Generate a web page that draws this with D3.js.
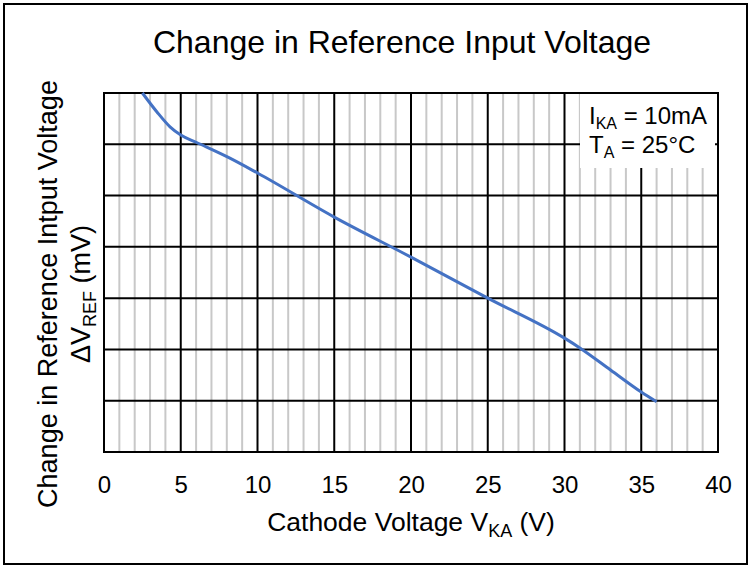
<!DOCTYPE html>
<html>
<head>
<meta charset="utf-8">
<script src="https://cdn.jsdelivr.net/npm/d3@7"></script>
<style>
  body { margin: 0; background: #fff; }
  text { font-family: "Liberation Sans", Arial, sans-serif; fill: #000; }
</style>
</head>
<body>
<div id="chart"></div>
<script>
// cathode voltage (V) and change in reference voltage (mV)
const vka = [2.5, 3.45, 4.3, 5, 6, 8.2, 10, 15, 20, 25, 30, 31, 33, 35, 36];
const dvref = [0, -3.7, -6.6, -8.2, -9.6, -12.7, -15.6, -24.2, -32.0, -40.0, -47.8, -49.7, -54.0, -58.3, -60.2];
const xTicks = [0, 5, 10, 15, 20, 25, 30, 35, 40];
const yDivisions = [-70, -60, -50, -40, -30, -20, -10, 0];

const width = 753, height = 568;
const margin = { left: 104, right: 35, top: 93, bottom: 116 };

const svg = d3.select("#chart").append("svg")
  .attr("width", width)
  .attr("height", height);

const x = d3.scaleLinear().domain([0, 40]).range([margin.left, width - margin.right]);
const y = d3.scaleLinear().domain([-70, 0]).range([height - margin.bottom, margin.top]);

// outer frame
svg.append("rect")
  .attr("x", 4).attr("y", 4)
  .attr("width", 743).attr("height", 560)
  .attr("fill", "none").attr("stroke", "#000").attr("stroke-width", 2);

// minor vertical grid
svg.append("g")
  .selectAll("line")
  .data(d3.range(0, 41, 1).filter(d => d % 5 != 0))
  .join("line")
  .attr("x1", d => x(d)).attr("x2", d => x(d))
  .attr("y1", y(0)).attr("y2", y(-70))
  .attr("stroke", "#c8c8c8").attr("stroke-width", 2);

// major grid
svg.append("g")
  .selectAll("line")
  .data(xTicks)
  .join("line")
  .attr("x1", d => x(d)).attr("x2", d => x(d))
  .attr("y1", y(0)).attr("y2", y(-70))
  .attr("stroke", "#000").attr("stroke-width", 2);

svg.append("g")
  .selectAll("line")
  .data(yDivisions)
  .join("line")
  .attr("x1", x(0)).attr("x2", x(40))
  .attr("y1", d => y(d)).attr("y2", d => y(d))
  .attr("stroke", "#000").attr("stroke-width", 2);

// legend box covering the grid
svg.append("rect")
  .attr("x", 580).attr("y", y(0) + 1)
  .attr("width", 135).attr("height", 74)
  .attr("fill", "#fff");

const legend = svg.append("g").style("font-size", "24px");
const l1 = legend.append("text").attr("x", 589).attr("y", 124);
l1.append("tspan").text("I");
l1.append("tspan").attr("dy", 5).style("font-size", "16px").text("KA");
l1.append("tspan").attr("dy", -5).text(" = 10mA");
const l2 = legend.append("text").attr("x", 589).attr("y", 153);
l2.append("tspan").text("T");
l2.append("tspan").attr("dy", 5).style("font-size", "16px").text("A");
l2.append("tspan").attr("dy", -5).text(" = 25°C");

// plot border
svg.append("rect")
  .attr("x", x(0)).attr("y", y(0))
  .attr("width", x(40) - x(0)).attr("height", y(-70) - y(0))
  .attr("fill", "none").attr("stroke", "#000").attr("stroke-width", 2);

// curve
const line = d3.line()
  .x((d, i) => x(vka[i]))
  .y(d => y(d))
  .curve(d3.curveMonotoneX);

svg.append("path")
  .datum(dvref)
  .attr("d", line)
  .attr("fill", "none")
  .attr("stroke", "#4472c4")
  .attr("stroke-width", 3);

// x axis labels
const xAxis = d3.axisBottom(x).tickValues(xTicks).tickSize(0).tickPadding(0);
const gx = svg.append("g")
  .attr("transform", `translate(0, ${y(-70)})`)
  .call(xAxis);
gx.select(".domain").remove();
gx.selectAll("text")
  .attr("dy", 0).attr("y", 41)
  .style("font-size", "24px")
  .style("font-family", "'Liberation Sans', Arial, sans-serif");

// title
svg.append("text")
  .attr("x", 402).attr("y", 53)
  .attr("text-anchor", "middle")
  .style("font-size", "32px")
  .text("Change in Reference Input Voltage");

// x axis title
const xt = svg.append("text")
  .attr("x", 411).attr("y", 531)
  .attr("text-anchor", "middle")
  .style("font-size", "26.5px");
xt.append("tspan").text("Cathode Voltage V");
xt.append("tspan").attr("dy", 6).style("font-size", "18px").text("KA");
xt.append("tspan").attr("dy", -6).text(" (V)");

// y axis title
const yt = svg.append("g").attr("transform", "translate(57, 294) rotate(-90)");
yt.append("text")
  .attr("text-anchor", "middle")
  .style("font-size", "27px")
  .text("Change in Reference Intput Voltage");
const yt2 = yt.append("text")
  .attr("y", 33)
  .attr("text-anchor", "middle")
  .style("font-size", "27px");
yt2.append("tspan").text("ΔV");
yt2.append("tspan").attr("dy", 6).style("font-size", "18px").text("REF");
yt2.append("tspan").attr("dy", -6).text(" (mV)");
</script>
</body>
</html>
